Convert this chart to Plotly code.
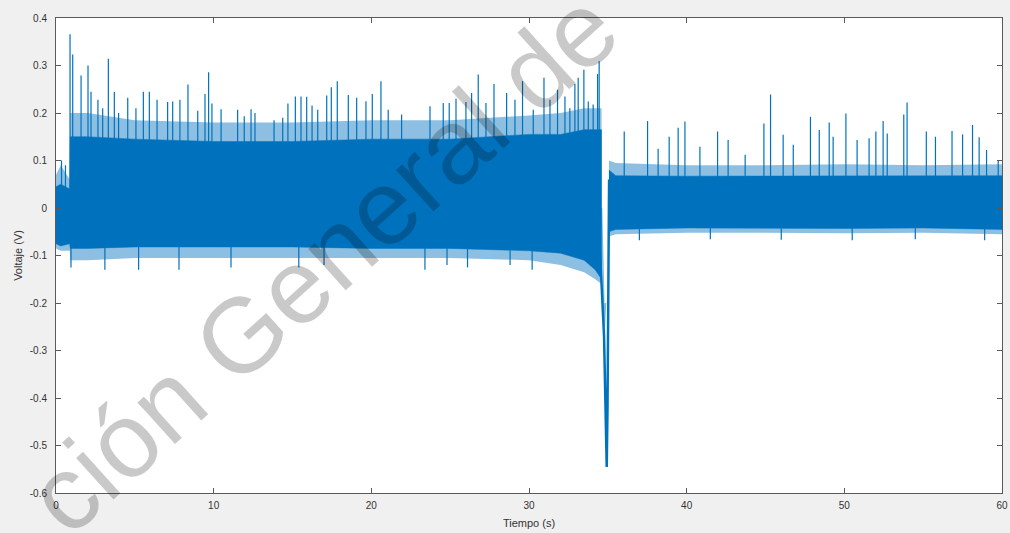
import plotly.graph_objects as go

BLUE = "#0072BD"

# ---- Segment 1 (0 - 34.6 s): dense band envelope ----
t1 = [0.0, 0.3, 0.87, 0.9, 2, 5, 10, 15, 20, 25, 30, 32, 33.5, 34.2, 34.6]
core_hi1 = [0.045, 0.05, 0.04, 0.15, 0.15, 0.145, 0.14, 0.14, 0.145, 0.145, 0.155, 0.155, 0.165, 0.165, 0.165]
core_lo1 = [-0.075, -0.08, -0.075, -0.085, -0.085, -0.082, -0.082, -0.082, -0.085, -0.085, -0.09, -0.095, -0.11, -0.13, -0.15]
fuzz_hi1 = [0.07, 0.09, 0.06, 0.2, 0.2, 0.185, 0.18, 0.18, 0.185, 0.185, 0.195, 0.2, 0.21, 0.21, 0.21]
fuzz_lo1 = [-0.085, -0.09, -0.09, -0.11, -0.11, -0.105, -0.105, -0.105, -0.105, -0.105, -0.11, -0.12, -0.135, -0.15, -0.16]

# ---- Segment 2 (35.07 - 60 s) ----
t2 = [35.07, 35.5, 40, 45, 50, 55, 60]
core_hi2 = [0.08, 0.068, 0.067, 0.067, 0.068, 0.067, 0.068]
core_lo2 = [-0.05, -0.045, -0.042, -0.042, -0.043, -0.042, -0.045]
fuzz_hi2 = [0.1, 0.095, 0.09, 0.09, 0.092, 0.09, 0.092]
fuzz_lo2 = [-0.06, -0.055, -0.052, -0.052, -0.053, -0.052, -0.055]

# ---- Individual peaks (upward) ----
spike_up_t = [0.35, 0.6, 0.89, 1.06, 1.59, 2.03, 2.22, 2.66, 2.96, 3.32, 3.70, 3.97, 4.55, 5.07, 5.54,
              5.92, 6.41, 7.08, 7.40, 7.86, 8.37, 8.99, 9.45, 9.68, 9.89, 10.47, 11.52, 11.94,
              12.37, 12.62, 13.83, 14.38, 14.71, 15.18, 15.54, 15.90, 16.24, 16.6, 17.17, 17.46,
              17.84, 18.54, 19.07, 19.66, 20.06, 20.61, 21.07, 21.92, 23.72, 24.56, 24.94, 25.37,
              26.0, 26.36, 26.78, 27.27, 27.78, 28.58, 29.11, 29.59, 30.27, 30.95, 31.33, 31.81,
              32.28, 32.59, 32.91, 33.12, 33.48, 33.76, 34.07, 34.35, 34.45,
              36.04, 37.52, 38.19, 38.89, 39.46, 39.89, 40.84, 41.96, 42.63, 43.71, 44.9, 45.32,
              46.12, 46.76, 47.85, 48.41, 49.04, 49.29, 50.1, 50.81, 51.57, 52.0, 52.46, 52.72,
              53.77, 53.98, 55.2, 55.78, 56.83, 57.5, 58.13, 58.55, 59.02, 59.76]
spike_up_v = [0.1, 0.09, 0.366, 0.323, 0.279, 0.300, 0.245, 0.228, 0.21, 0.314, 0.244, 0.20, 0.232, 0.21, 0.245,
              0.245, 0.228, 0.223, 0.224, 0.228, 0.26, 0.205, 0.24, 0.286, 0.22, 0.208, 0.207, 0.193,
              0.208, 0.2, 0.185, 0.19, 0.22, 0.235, 0.235, 0.234, 0.216, 0.207, 0.237, 0.254,
              0.267, 0.238, 0.232, 0.225, 0.24, 0.267, 0.207, 0.197, 0.214, 0.221, 0.221, 0.23,
              0.223, 0.242, 0.281, 0.221, 0.261, 0.242, 0.228, 0.267, 0.207, 0.274, 0.228, 0.249,
              0.235, 0.21, 0.261, 0.274, 0.291, 0.224, 0.218, 0.282, 0.309,
              0.161, 0.183, 0.125, 0.15, 0.169, 0.182, 0.129, 0.161, 0.143, 0.112, 0.178, 0.239,
              0.154, 0.133, 0.192, 0.164, 0.18, 0.15, 0.199, 0.143, 0.147, 0.161, 0.183, 0.157,
              0.197, 0.222, 0.161, 0.15, 0.162, 0.155, 0.175, 0.149, 0.122, 0.1]

# ---- Individual peaks (downward) ----
spike_dn_t = [0.95, 3.1, 5.24, 7.8, 11.1, 15.4, 17.0, 23.4, 24.8, 26.1, 28.8, 30.2,
              37.0, 41.5, 46.0, 50.5, 54.5, 58.9]
spike_dn_v = [-0.125, -0.13, -0.13, -0.13, -0.125, -0.125, -0.12, -0.13, -0.12, -0.125, -0.12, -0.13,
              -0.068, -0.066, -0.067, -0.068, -0.066, -0.068]

# ---- Transient around 34.6 - 35.1 s ----
dip_t = [34.5, 34.6, 34.68, 34.76, 34.84, 34.9, 34.93, 34.98, 35.03, 35.07, 35.08]
dip_v = [-0.09, -0.15, -0.2, -0.27, -0.4, -0.52, -0.545, -0.42, -0.2, -0.08, 0.06]
dip2_t = [34.6, 34.7, 34.78, 34.85]
dip2_v = [0.0, -0.12, -0.25, -0.2]

x_ticks = [0, 10, 20, 30, 40, 50, 60]
y_ticks = [0.4, 0.3, 0.2, 0.1, 0, -0.1, -0.2, -0.3, -0.4, -0.5, -0.6]
y_ticktext = ["0.4", "0.3", "0.2", "0.1", "0", "-0.1", "-0.2", "-0.3", "-0.4", "-0.5", "-0.6"]


def band(t, hi, lo):
    return list(t) + list(reversed(t)), list(hi) + list(reversed(lo))


def sticks(ts, vs):
    xs, ys = [], []
    for t, v in zip(ts, vs):
        xs += [t, t, None]
        ys += [0, v, None]
    return xs, ys


fig = go.Figure()

for t, hi, lo in [(t1, fuzz_hi1, fuzz_lo1), (t2, fuzz_hi2, fuzz_lo2)]:
    bx, by = band(t, hi, lo)
    fig.add_trace(go.Scatter(x=bx, y=by, fill="toself", fillcolor="rgba(0,114,189,0.45)",
                             line=dict(width=0), mode="lines", hoverinfo="skip", showlegend=False))

for t, hi, lo in [(t1, core_hi1, core_lo1), (t2, core_hi2, core_lo2)]:
    bx, by = band(t, hi, lo)
    fig.add_trace(go.Scatter(x=bx, y=by, fill="toself", fillcolor=BLUE,
                             line=dict(width=0.5, color=BLUE), mode="lines", hoverinfo="skip",
                             showlegend=False))

sx, sy = sticks(spike_up_t + spike_dn_t, spike_up_v + spike_dn_v)
fig.add_trace(go.Scatter(x=sx, y=sy, mode="lines", line=dict(color=BLUE, width=1.2),
                         hoverinfo="skip", showlegend=False))

fig.add_trace(go.Scatter(x=dip2_t, y=dip2_v, mode="lines", line=dict(color="rgba(0,114,189,0.5)", width=1.5),
                         showlegend=False))
fig.add_trace(go.Scatter(x=dip_t, y=dip_v, mode="lines", line=dict(color=BLUE, width=2.5),
                         showlegend=False))

axis_common = dict(
    showgrid=False, zeroline=False, showline=True, mirror="ticks", linecolor="#5a5a5a", linewidth=1,
    ticks="inside", ticklen=5, tickcolor="#5a5a5a", automargin=False,
    tickfont=dict(family="Liberation Sans, Arial", size=10, color="#333333"),
)

fig.update_layout(
    width=1010, height=533,
    paper_bgcolor="#f0f0f0", plot_bgcolor="white",
    margin=dict(l=56, r=8, t=18, b=40),
    xaxis=dict(range=[0, 60], tickvals=x_ticks, ticklabelstandoff=3,
               title=dict(text="Tiempo (s)", font=dict(family="Liberation Sans, Arial", size=11, color="#333333"),
                          standoff=9),
               **axis_common),
    yaxis=dict(range=[-0.6, 0.4], tickvals=y_ticks, ticktext=y_ticktext, ticklabelstandoff=6,
               title=dict(text="Voltaje (V)", font=dict(family="Liberation Sans, Arial", size=11, color="#333333"),
                          standoff=4),
               **axis_common),
)

fig.add_annotation(text="ción General de", xref="paper", yref="paper",
                   x=(322 - 56) / 946, y=(493 - 262) / 475, xanchor="center", yanchor="middle",
                   textangle=-42, showarrow=False,
                   font=dict(family="Liberation Sans, Arial", size=106, color="rgba(0,0,0,0.21)"))

fig.write_html("out.html", config={"displayModeBar": False},
               post_script="document.body.style.margin='0';document.body.style.background='#f0f0f0';")
